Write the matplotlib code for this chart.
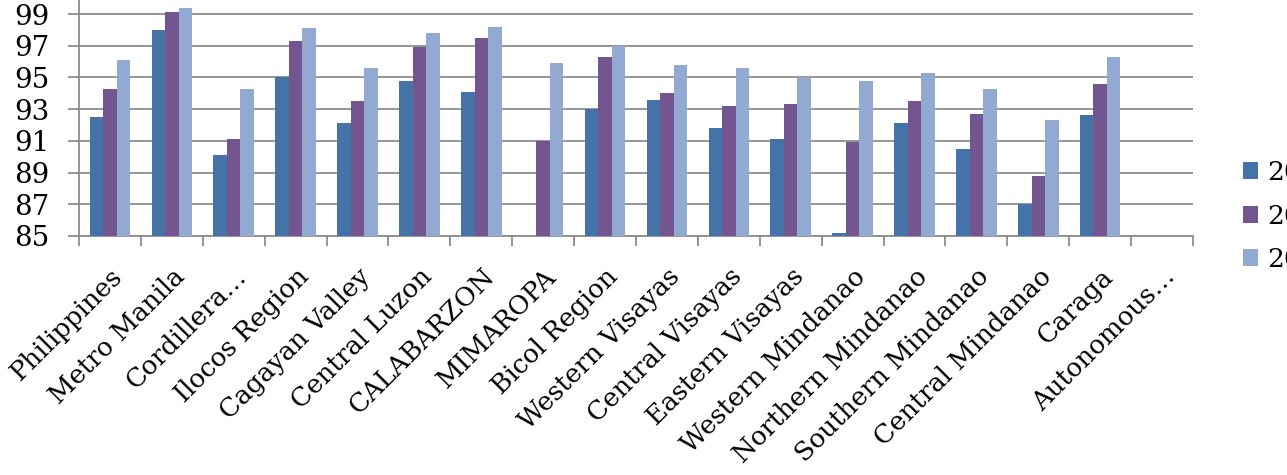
import numpy as np
import matplotlib
matplotlib.use("Agg")
import matplotlib.pyplot as plt
from matplotlib.ticker import FixedLocator

categories = ["Philippines", "Metro Manila", "Cordillera…", "Ilocos Region",
              "Cagayan Valley", "Central Luzon", "CALABARZON", "MIMAROPA",
              "Bicol Region", "Western Visayas", "Central Visayas",
              "Eastern Visayas", "Western Mindanao", "Northern Mindanao",
              "Southern Mindanao", "Central Mindanao", "Caraga", "Autonomous…"]
series_labels = ["2003", "2008", "2013"]
vals_a = [92.5, 98.0, 90.1, 95.0, 92.1, 94.8, 94.1, np.nan, 93.0, 93.6, 91.8,
          91.1, 85.2, 92.1, 90.5, 87.0, 92.6, 80.0]
vals_b = [94.3, 99.1, 91.1, 97.3, 93.5, 96.9, 97.5, 91.0, 96.3, 94.0, 93.2,
          93.3, 90.9, 93.5, 92.7, 88.8, 94.6, 80.5]
vals_c = [96.1, 99.4, 94.3, 98.1, 95.6, 97.8, 98.2, 95.9, 97.0, 95.8, 95.6,
          95.0, 94.8, 95.3, 94.3, 92.3, 96.3, 81.0]
yticks = [85, 87, 89, 91, 93, 95, 97, 99]

colors = ["#4573A8", "#735690", "#92A9D1"]
font = "DejaVu Serif"
fs = 18.7

fig = plt.figure(figsize=(12.87, 4.75), dpi=100)
ax = fig.add_axes([79/1287, 1 - 236/475, (1193-79)/1287, 236/475])

x = np.arange(len(categories))
w = 0.218
for i, (vals, c, lab) in enumerate(zip([vals_a, vals_b, vals_c], colors, series_labels)):
    ax.bar(x + (i - 1) * w, vals, width=w, color=c, label=lab, zorder=3)

ax.set_xlim(-0.5, len(categories) - 0.5)
ax.set_ylim(85, 85 + 236 / 15.857)
ax.set_yticks(yticks)
ax.yaxis.grid(True, color="#8c8c8c", linewidth=1.3, zorder=0)
ax.set_axisbelow(True)
for s in ["top", "right"]:
    ax.spines[s].set_visible(False)
for s in ["left", "bottom"]:
    ax.spines[s].set_color("#8c8c8c")
    ax.spines[s].set_linewidth(1.3)

ax.set_xticks(x)
ax.set_xticklabels(categories, rotation=45, ha="right", rotation_mode="anchor",
                   fontsize=fs, family=font)
ax.tick_params(axis="x", which="major", length=0, pad=20)
ax.xaxis.set_minor_locator(FixedLocator(np.arange(-0.5, len(categories), 1.0)))
ax.tick_params(axis="x", which="minor", length=7, width=1.3, color="#8c8c8c")
ax.tick_params(axis="y", length=8, width=1.3, color="#8c8c8c", pad=13)
for t in ax.get_yticklabels():
    t.set_fontsize(20)
    t.set_family(font)

fig.legend(loc="center left", bbox_to_anchor=(1232/1287, 1 - 216/475),
           prop={"family": font, "size": 19}, frameon=False,
           handlelength=0.6, handleheight=0.6, handletextpad=0.35,
           labelspacing=0.7, borderaxespad=0)

fig.savefig("out.png", dpi=100, facecolor="white")
